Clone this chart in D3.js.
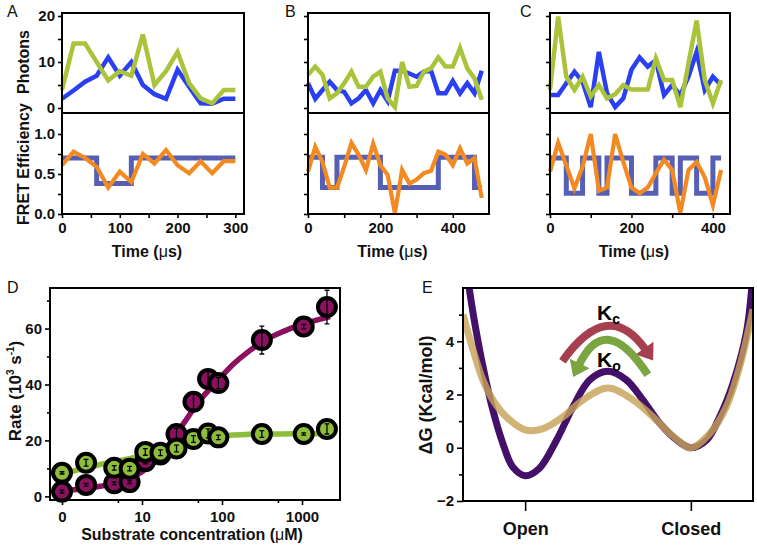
<!DOCTYPE html>
<html><head><meta charset="utf-8">
<script src="https://cdn.jsdelivr.net/npm/d3@7/dist/d3.min.js"></script>
<style>
html,body{margin:0;padding:0;background:#fff;}
svg text{font-family:"Liberation Sans",Arial,Helvetica,sans-serif;}
</style></head><body>
<svg id="chart" width="757" height="547"></svg>
<script>
// ================= DATA =================
// Panels A-C: time bins (µs)
const timeA = [0,20,40,60,80,100,120,140,160,180,200,220,240,260,280,300];
const timeB = [0,20,40,60,80,100,120,140,160,180,200,220,240,260,280,300,320,340,360,380,400,420,440,460,480];
const timeC = [0,20,40,60,80,100,120,140,160,180,200,220,240,260,280,300,320,340,360,380,400,420];

// photons per bin (blue channel, green channel)
const photonBlueA  = [2,3.8,5.7,7,11,7,10,5,3,2,8.3,4.6,1,0.9,2,2];
const photonGreenA = [3.9,14,14,10,6,8,7,16,5,8,12.2,5.4,2.1,1,3.9,3.9];
const photonBlueB  = [5.4,2,3.9,5.7,3.9,3.5,1,2.1,3.9,1,3.9,1.5,8.1,8.1,7.5,6.8,7.9,8.1,3.2,3.2,5.9,3.2,5.4,3.2,8.1];
const photonGreenB = [7.2,9,7.2,2.1,3.2,5.4,7.9,4.6,4.6,6.8,7.9,2.1,0.2,10,4.6,4.8,7.9,8.6,11,9,9,13,8.6,6.4,1.8];
const photonBlueC  = [2.8,2.8,5.4,7.9,5.7,0.2,12.2,3.2,0.2,2.1,8.3,11,9,10.4,2.8,5,2.8,6.8,12.2,3.9,6.8,5];
const photonGreenC = [3.9,19.9,6.8,3.9,6.8,2.5,5,2.1,3,5,4,4,4,10.8,6.1,6.1,0.2,9.7,19,6.1,1,6.1];

// FRET efficiency per bin
const fretA = [0.61,0.78,0.70,0.59,0.33,0.53,0.40,0.75,0.63,0.80,0.61,0.51,0.66,0.51,0.66,0.66];
const fretB = [0.53,0.84,0.65,0.33,0.33,0.59,0.89,0.74,0.55,0.88,0.61,0.49,0.01,0.55,0.38,0.43,0.51,0.54,0.78,0.74,0.61,0.82,0.63,0.70,0.20];
const fretC = [0.53,0.89,0.61,0.32,0.59,1.0,0.29,0.33,1.0,0.65,0.33,0.26,0.33,0.51,0.68,0.55,0.01,0.55,0.65,0.46,0.11,0.55];

// state trajectories (change times and levels)
const stepTimesA  = [0,60,120,300];
const stepLevelsA = [0.70,0.38,0.70,0.70];
const stepTimesB  = [0,40,80,200,360,460,480];
const stepLevelsB = [0.71,0.33,0.71,0.33,0.71,0.33,0.33];
const stepTimesC  = [0,40,80,120,140,200,260,300,320,360,400,420];
const stepLevelsC = [0.70,0.26,0.70,0.26,0.70,0.26,0.70,0.26,0.70,0.26,0.70,0.70];

// Panel D: substrate concentration (µM) and rates (10^3 s^-1)
const concD   = [0,2,4.5,7,11,17,27,44,67,90,315,1050,2050];
const rateMag = [1.7,4.1,4.7,5.1,12.6,15,22.3,33.8,42,40.5,55.9,60.7,67.7];
const errMag  = [0.5,0.5,0.5,0.5,1,1,2,3,3.2,2,5,0.8,6];
const rateGrn = [8.4,12,10.2,9.9,15.9,15.6,17.1,20.5,22.5,21.1,22.3,22.3,24.1];
const errGrn  = [0.4,1.2,0.8,0.8,1.2,1,1.2,1.2,1.6,0.8,1.2,0.4,1.8];
// fitted curves
const fitConc = [1,3,7.8,12.6,20.4,33,53,86,138,224,363,588,944,1520,2240];
const fitMag  = [2,3.6,7,11,17.5,26,34.4,41,47.2,52.2,56.2,59,61.3,63,64.3];
const fitGrn  = [8,11.4,13.8,15.6,17.2,18.9,20.5,21.3,21.9,22.2,22.3,22.3,22.4,22.4,22.4];
const xTicksD = [1,10,100,1000];
const xTickLabelsD = ["0","10","100","1000"];

// Panel E: free-energy profiles (reaction coordinate, kcal/mol)
const coordPurple = [-1.68,-1.62,-1.51,-1.39,-1.27,-1.15,-1.0,-0.83,-0.62,-0.42,-0.22,0,0.22,0.42,0.625,0.83,1.0,1.19,1.35,1.51,1.67,1.74];
const dGPurple    = [6.1,4.9,3.06,1.42,0.17,-0.72,-1.05,-0.78,0.29,1.55,2.55,2.87,2.55,1.8,0.92,0.29,0,0.29,1.17,2.43,4.32,6.2];
const coordTan = [-1.75,-1.63,-1.51,-1.39,-1.23,-1.0,-0.79,-0.54,-0.3,0,0.3,0.54,0.79,1.0,1.23,1.43,1.59,1.75];
const dGTan    = [5.0,3.69,2.55,1.8,1.17,0.67,0.71,1.17,1.8,2.24,1.8,1.17,0.42,0,0.54,1.55,3.06,5.2];
const stateTicks = [-1,1];
const stateLabels = ["Open","Closed"];

// ================= DRAWING =================
const svg = d3.select("#chart");
const COL = {blue:"#2a3ff2", green:"#a9c43b", orange:"#f28a21", step:"#5560b5",
             mag:"#8b1060", grn:"#8dbd3a", purple:"#43106a", tan:"#c6a257",
             kc:"#a63f50", ko:"#7aa541"};
const TICKFONT = "bold 15px 'Liberation Sans', Arial, sans-serif";

function styleAxis(a){
  a.select(".domain").remove();
  a.selectAll("line").attr("stroke","#000").attr("stroke-width",1.6);
  a.selectAll("text").style("font", TICKFONT).attr("fill","#111");
}
function axisG(parent, axis, tx, ty){
  const a = parent.append("g").attr("transform",`translate(${tx},${ty})`).call(axis);
  styleAxis(a); return a;
}
function frame(parent, x0, y0, x1, y1){
  parent.append("rect").attr("x",x0).attr("y",y0).attr("width",x1-x0).attr("height",y1-y0)
    .attr("fill","none").attr("stroke","#000").attr("stroke-width",2);
}

const traces = [
  {letter:"A", lx:7,   left:62,  right:244, xMax:315, time:timeA, blue:photonBlueA, green:photonGreenA, fret:fretA, st:stepTimesA, sv:stepLevelsA, major:[0,100,200,300], minor:[50,150,250], ylab:true},
  {letter:"B", lx:285, left:308, right:489, xMax:500, time:timeB, blue:photonBlueB, green:photonGreenB, fret:fretB, st:stepTimesB, sv:stepLevelsB, major:[0,200,400], minor:[100,300], ylab:false},
  {letter:"C", lx:520, left:550, right:730, xMax:442, time:timeC, blue:photonBlueC, green:photonGreenC, fret:fretC, st:stepTimesC, sv:stepLevelsC, major:[0,200,400], minor:[100,300], ylab:false}
];

traces.forEach(cfg => {
  const g = svg.append("g");
  const x = d3.scaleLinear().domain([0,cfg.xMax]).range([cfg.left,cfg.right]);
  const yP = d3.scaleLinear().domain([-1.09,20.65]).range([113,13]);
  const yF = d3.scaleLinear().domain([0,1.2625]).range([214,113]);
  const lineP = d3.line().x((d,i)=>x(cfg.time[i])).y(d=>yP(d));
  const lineF = d3.line().x((d,i)=>x(cfg.time[i])).y(d=>yF(d));
  const lineS = d3.line().curve(d3.curveStepAfter).x((d,i)=>x(cfg.st[i])).y(d=>yF(d));

  g.append("path").attr("d",lineP(cfg.blue)).attr("fill","none").attr("stroke",COL.blue).attr("stroke-width",4.5);
  g.append("path").attr("d",lineP(cfg.green)).attr("fill","none").attr("stroke",COL.green).attr("stroke-width",4.5);
  g.append("path").attr("d",lineS(cfg.sv)).attr("fill","none").attr("stroke",COL.step).attr("stroke-width",5);
  g.append("path").attr("d",lineF(cfg.fret)).attr("fill","none").attr("stroke",COL.orange).attr("stroke-width",4.2);

  frame(g, cfg.left, 13, cfg.right, 113);
  frame(g, cfg.left, 113, cfg.right, 214);

  // y axes
  axisG(g, d3.axisLeft(yP).tickValues([0,10,20]).tickSize(4).tickPadding(3).tickSizeOuter(0)
        .tickFormat(d=> cfg.ylab ? d : ""), cfg.left, 0);
  axisG(g, d3.axisLeft(yP).tickValues([5,15]).tickSize(4).tickSizeOuter(0).tickFormat(()=>""), cfg.left, 0);
  axisG(g, d3.axisLeft(yF).tickValues([0,0.5,1.0]).tickSize(4).tickPadding(3).tickSizeOuter(0)
        .tickFormat(d=> cfg.ylab ? d3.format(".1f")(d) : ""), cfg.left, 0);
  axisG(g, d3.axisLeft(yF).tickValues([0.25,0.75]).tickSize(4).tickSizeOuter(0).tickFormat(()=>""), cfg.left, 0);
  // x axes
  axisG(g, d3.axisBottom(x).tickValues(cfg.major).tickSize(4).tickPadding(4).tickSizeOuter(0), 0, 214);
  axisG(g, d3.axisBottom(x).tickValues(cfg.minor).tickSize(4).tickSizeOuter(0).tickFormat(()=>""), 0, 214);

  const t = g.append("text").attr("x",(cfg.left+cfg.right)/2 - 6).attr("y",257).attr("text-anchor","middle")
    .style("font-weight","bold").style("font-size","16px").attr("fill","#111");
  t.append("tspan").text("Time (");
  t.append("tspan").text("μ").style("font-weight","normal");
  t.append("tspan").text("s)");

  g.append("text").attr("x",cfg.lx).attr("y",17).text(cfg.letter).style("font-size","16px").attr("fill","#111");

  if (cfg.ylab){
    g.append("text").attr("transform","translate(29,62) rotate(-90)").attr("text-anchor","middle")
      .style("font-weight","bold").style("font-size","16px").attr("fill","#111").text("Photons");
    g.append("text").attr("transform","translate(29,164) rotate(-90)").attr("text-anchor","middle")
      .style("font-weight","bold").style("font-size","16px").attr("fill","#111").text("FRET Efficiency");
  }
});

// ---------- Panel D ----------
(function(){
  const g = svg.append("g");
  const x = d3.scaleLog().domain([0.708,2985]).range([50,340]);
  const y = d3.scaleLinear().domain([-1.3,74.5]).range([500,288]);
  const cx = c => x(c === 0 ? 1 : c);
  const fit = d3.line().curve(d3.curveMonotoneX).x((d,i)=>x(fitConc[i])).y(d=>y(d));
  g.append("path").attr("d",fit(fitGrn)).attr("fill","none").attr("stroke",COL.grn).attr("stroke-width",5.5);
  g.append("path").attr("d",fit(fitMag)).attr("fill","none").attr("stroke",COL.mag).attr("stroke-width",5.5);

  function points(vals, errs, color){
    vals.forEach((v,i)=>{
      const px = cx(concD[i]), py = y(v);
      g.append("circle").attr("cx",px).attr("cy",py).attr("r",9).attr("fill",color)
        .attr("stroke","#000").attr("stroke-width",4);
      const y0 = y(v-errs[i]), y1 = y(v+errs[i]);
      g.append("path").attr("d",`M${px},${y0}V${y1}M${px-2.4},${y0}H${px+2.4}M${px-2.4},${y1}H${px+2.4}`)
        .attr("stroke","#000").attr("stroke-width",1.3).attr("fill","none");
    });
  }
  points(rateMag, errMag, COL.mag);
  points(rateGrn, errGrn, COL.grn);

  frame(g, 50, 288, 340, 500);
  axisG(g, d3.axisLeft(y).tickValues([0,20,40,60]).tickSize(5).tickPadding(3).tickSizeOuter(0), 50, 0);
  axisG(g, d3.axisLeft(y).tickValues([10,30,50,70]).tickSize(3).tickSizeOuter(0).tickFormat(()=>""), 50, 0);
  axisG(g, d3.axisBottom(x).tickValues(xTicksD).tickSize(5).tickPadding(6).tickSizeOuter(0)
        .tickFormat((d,i)=>xTickLabelsD[i]), 0, 500);
  axisG(g, d3.axisBottom(x).tickValues([5,50,500]).tickSize(3).tickSizeOuter(0).tickFormat(()=>""), 0, 500);

  const t = g.append("text").attr("x",192).attr("y",540).attr("text-anchor","middle")
    .style("font-weight","bold").style("font-size","16px").attr("fill","#111");
  t.append("tspan").text("Substrate concentration (");
  t.append("tspan").text("μ").style("font-weight","normal");
  t.append("tspan").text("M)");

  const r = g.append("text").attr("transform","translate(21,391) rotate(-90)").attr("text-anchor","middle")
    .style("font-weight","bold").style("font-size","17px").attr("fill","#111");
  r.append("tspan").text("Rate (10");
  r.append("tspan").text("3").attr("dy","-7").style("font-size","10px");
  r.append("tspan").text(" s").attr("dy","7");
  r.append("tspan").text("-1").attr("dy","-7").style("font-size","10px");
  r.append("tspan").text(")").attr("dy","7");

  g.append("text").attr("x",7).attr("y",293).text("D").style("font-size","16px").attr("fill","#111");
})();

// ---------- Panel E ----------
(function(){
  const g = svg.append("g");
  const x = d3.scaleLinear().domain([-1.75,1.75]).range([463,753]);
  const y = d3.scaleLinear().domain([-2,6]).range([501,288]);
  svg.append("defs").append("clipPath").attr("id","clipE").append("rect")
    .attr("x",463).attr("y",288).attr("width",290).attr("height",213);
  const gc = g.append("g").attr("clip-path","url(#clipE)");
  const lineP = d3.line().curve(d3.curveCatmullRom).x((d,i)=>x(coordPurple[i])).y(d=>y(d));
  const lineT = d3.line().curve(d3.curveCatmullRom).x((d,i)=>x(coordTan[i])).y(d=>y(d));
  gc.append("path").attr("d",lineP(dGPurple)).attr("fill","none").attr("stroke",COL.purple).attr("stroke-width",7);
  gc.append("path").attr("d",lineT(dGTan)).attr("fill","none").attr("stroke",COL.tan).attr("stroke-width",7).attr("opacity",0.82);

  // rate arrows (annotation, in data units)
  function arcArrow(p0, apex, tip, color){
    const P0=[x(p0[0]),y(p0[1])], A=[x(apex[0]),y(apex[1])], T=[x(tip[0]),y(tip[1])];
    const c=[2*A[0]-(P0[0]+T[0])/2, 2*A[1]-(P0[1]+T[1])/2];
    const dx=T[0]-c[0], dy=T[1]-c[1], L=Math.hypot(dx,dy), ux=dx/L, uy=dy/L;
    const hl=15, hw=11;
    const B=[T[0]-ux*hl, T[1]-uy*hl];
    const p=d3.path(); p.moveTo(P0[0],P0[1]); p.quadraticCurveTo(c[0],c[1],B[0]+ux*2,B[1]+uy*2);
    g.append("path").attr("d",p.toString()).attr("fill","none").attr("stroke",color).attr("stroke-width",8);
    g.append("path").attr("d",`M${T[0]},${T[1]}L${B[0]-uy*hw},${B[1]+ux*hw}L${B[0]+uy*hw},${B[1]-ux*hw}Z`).attr("fill",color);
  }
  arcArrow([-0.55,3.25],[0,4.47],[0.545,3.28],COL.kc);
  arcArrow([0.48,2.74],[0,3.94],[-0.42,2.66],COL.ko);

  const kc = g.append("text").attr("x",x(0)-11).attr("y",320).style("font-weight","bold").style("font-size","21px").attr("fill","#000");
  kc.append("tspan").text("K");
  kc.append("tspan").text("c").attr("dy","4").style("font-size","14px");
  const ko = g.append("text").attr("x",x(0)-11).attr("y",367).style("font-weight","bold").style("font-size","21px").attr("fill","#000");
  ko.append("tspan").text("K");
  ko.append("tspan").text("o").attr("dy","4").style("font-size","14px");

  frame(g, 463, 288, 753, 501);
  axisG(g, d3.axisLeft(y).tickValues([-2,0,2,4]).tickSize(6).tickPadding(3).tickSizeOuter(0), 463, 0);
  axisG(g, d3.axisLeft(y).tickValues([-1,1,3,5]).tickSize(4).tickSizeOuter(0).tickFormat(()=>""), 463, 0);
  const ax = axisG(g, d3.axisBottom(x).tickValues(stateTicks).tickSize(10).tickPadding(11).tickSizeOuter(0)
        .tickFormat((d,i)=>stateLabels[i]), 0, 501);
  ax.selectAll("text").style("font-size","18px");

  g.append("text").attr("transform","translate(432,395) rotate(-90)").attr("text-anchor","middle")
    .style("font-weight","bold").style("font-size","18px").attr("fill","#111").text("ΔG (Kcal/mol)");
  g.append("text").attr("x",422).attr("y",293).text("E").style("font-size","16px").attr("fill","#111");
})();
</script></body></html>
